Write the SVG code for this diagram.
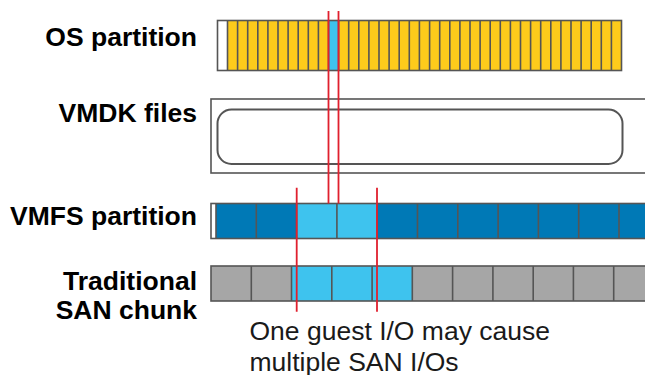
<svg xmlns="http://www.w3.org/2000/svg" width="645" height="375" viewBox="0 0 645 375">
<style>
.lbl{font-family:"Liberation Sans",Arial,sans-serif;font-weight:bold;font-size:26.5px;fill:#000;text-anchor:end}
.note{font-family:"Liberation Sans",Arial,sans-serif;font-size:26.5px;fill:#1a1a1a}
.bd{stroke:#555;stroke-width:1.6;fill:none}
.red{stroke:#E0202E;stroke-width:1.8;fill:none}
</style>
<rect width="645" height="375" fill="#fff"/>
<g id="labels">
<text class="lbl" x="197" y="45.5">OS partition</text>
<text class="lbl" x="197" y="122">VMDK files</text>
<text class="lbl" x="197" y="224.5">VMFS partition</text>
<text class="lbl" x="197" y="289.5">Traditional</text>
<text class="lbl" x="197" y="318.5">SAN chunk</text>
</g>
<g id="os-partition">
<rect x="217.5" y="20.5" width="404" height="50" fill="#FFFFFF"/>
<rect x="227.5" y="20.5" width="394" height="50" fill="#FDCB1B"/>
<rect x="328.5" y="20.5" width="10.1" height="50" fill="#3EC3EE"/>
<path class="bd" d="M227.5 20.5V70.5M237.6 20.5V70.5M247.7 20.5V70.5M257.8 20.5V70.5M267.9 20.5V70.5M278 20.5V70.5M288.1 20.5V70.5M298.2 20.5V70.5M308.3 20.5V70.5M318.4 20.5V70.5M328.5 20.5V70.5M338.6 20.5V70.5M348.7 20.5V70.5M358.8 20.5V70.5M368.9 20.5V70.5M379 20.5V70.5M389.1 20.5V70.5M399.2 20.5V70.5M409.3 20.5V70.5M419.4 20.5V70.5M429.6 20.5V70.5M439.7 20.5V70.5M449.8 20.5V70.5M459.9 20.5V70.5M470 20.5V70.5M480.1 20.5V70.5M490.2 20.5V70.5M500.3 20.5V70.5M510.4 20.5V70.5M520.5 20.5V70.5M530.6 20.5V70.5M540.7 20.5V70.5M550.8 20.5V70.5M560.9 20.5V70.5M571 20.5V70.5M581.1 20.5V70.5M591.2 20.5V70.5M601.3 20.5V70.5M611.4 20.5V70.5"/>
<rect class="bd" x="217.5" y="20.5" width="404" height="50"/>
</g>
<g id="vmdk-files">
<rect class="bd" x="211" y="99" width="445" height="74" fill="#fff"/>
<rect x="217.5" y="109.5" width="405" height="54.5" rx="14" ry="14" fill="#fff" stroke="#555" stroke-width="2"/>
</g>
<g id="vmfs-partition">
<rect x="211" y="203.5" width="445" height="35" fill="#0079B6"/>
<rect x="211" y="203.5" width="5" height="35" fill="#fff"/>
<rect x="296.6" y="203.5" width="80.6" height="35" fill="#3EC3EE"/>
<path class="bd" d="M216 203.5V238.5M256.3 203.5V238.5M296.6 203.5V238.5M336.9 203.5V238.5M377.2 203.5V238.5M417.5 203.5V238.5M457.8 203.5V238.5M498.1 203.5V238.5M538.4 203.5V238.5M578.7 203.5V238.5M619 203.5V238.5"/>
<rect class="bd" x="211" y="203.5" width="445" height="35"/>
</g>
<g id="san-chunk">
<rect x="211" y="266" width="445" height="35" fill="#A6A6A6"/>
<rect x="291.5" y="266" width="120.8" height="35" fill="#3EC3EE"/>
<path class="bd" d="M251.3 266V301M291.5 266V301M331.8 266V301M372.1 266V301M412.3 266V301M452.6 266V301M492.9 266V301M533.2 266V301M573.4 266V301M613.7 266V301"/>
<rect class="bd" x="211" y="266" width="445" height="35"/>
</g>
<g id="connectors">
<path class="red" d="M328.5 11V203.5M338.5 11V203.5"/>
<path class="red" d="M296.7 187.7V311.7M377 187.7V311.7"/>
</g>
<g id="note">
<text class="note" x="249.5" y="339.5">One guest I/O may cause</text>
<text class="note" x="249.5" y="370.5">multiple SAN I/Os</text>
</g>
</svg>
